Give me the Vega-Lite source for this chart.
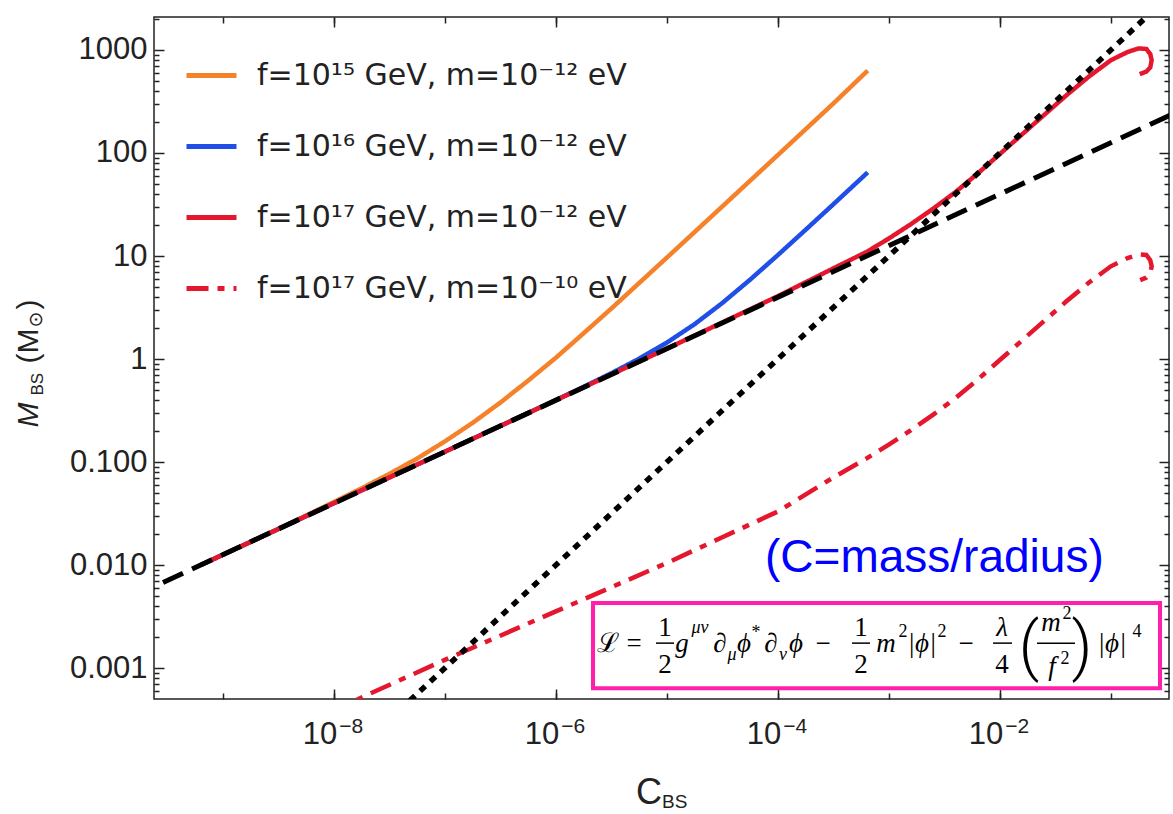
{
  "$schema": "https://vega.github.io/schema/vega-lite/v6.json",
  "width": 1015,
  "height": 682,
  "autosize": {"type": "none"},
  "padding": {"left": 154, "top": 17, "right": 4, "bottom": 115},
  "background": "white",
  "config": {"view": {"stroke": "#222", "strokeWidth": 1.5}, "font": "Liberation Sans"},
  "resolve": {"axis": {"x": "independent", "y": "independent"}},
  "datasets": {
    "curves": [
      {"series": "f=10¹⁵ GeV, m=10⁻¹² eV", "i": 0, "C": 6.310e-10, "M": 0.01},
      {"series": "f=10¹⁵ GeV, m=10⁻¹² eV", "i": 1, "C": 3.162e-9, "M": 0.02239},
      {"series": "f=10¹⁵ GeV, m=10⁻¹² eV", "i": 2, "C": 1e-8, "M": 0.04093},
      {"series": "f=10¹⁵ GeV, m=10⁻¹² eV", "i": 3, "C": 1.778e-8, "M": 0.05559},
      {"series": "f=10¹⁵ GeV, m=10⁻¹² eV", "i": 4, "C": 3.162e-8, "M": 0.07674},
      {"series": "f=10¹⁵ GeV, m=10⁻¹² eV", "i": 5, "C": 5.623e-8, "M": 0.1081},
      {"series": "f=10¹⁵ GeV, m=10⁻¹² eV", "i": 6, "C": 1e-7, "M": 0.1585},
      {"series": "f=10¹⁵ GeV, m=10⁻¹² eV", "i": 7, "C": 1.778e-7, "M": 0.2399},
      {"series": "f=10¹⁵ GeV, m=10⁻¹² eV", "i": 8, "C": 3.162e-7, "M": 0.3776},
      {"series": "f=10¹⁵ GeV, m=10⁻¹² eV", "i": 9, "C": 5.623e-7, "M": 0.6166},
      {"series": "f=10¹⁵ GeV, m=10⁻¹² eV", "i": 10, "C": 1e-6, "M": 1.028},
      {"series": "f=10¹⁵ GeV, m=10⁻¹² eV", "i": 11, "C": 1.778e-6, "M": 1.778},
      {"series": "f=10¹⁵ GeV, m=10⁻¹² eV", "i": 12, "C": 3.162e-6, "M": 3.090},
      {"series": "f=10¹⁵ GeV, m=10⁻¹² eV", "i": 13, "C": 1e-5, "M": 9.638},
      {"series": "f=10¹⁵ GeV, m=10⁻¹² eV", "i": 14, "C": 3.162e-5, "M": 30.27},
      {"series": "f=10¹⁵ GeV, m=10⁻¹² eV", "i": 15, "C": 1e-4, "M": 95.50},
      {"series": "f=10¹⁵ GeV, m=10⁻¹² eV", "i": 16, "C": 3.162e-4, "M": 302.0},
      {"series": "f=10¹⁵ GeV, m=10⁻¹² eV", "i": 17, "C": 6.457e-4, "M": 631.0},

      {"series": "f=10¹⁶ GeV, m=10⁻¹² eV", "i": 0, "C": 6.310e-10, "M": 0.01},
      {"series": "f=10¹⁶ GeV, m=10⁻¹² eV", "i": 1, "C": 3.162e-9, "M": 0.02239},
      {"series": "f=10¹⁶ GeV, m=10⁻¹² eV", "i": 2, "C": 1e-8, "M": 0.03981},
      {"series": "f=10¹⁶ GeV, m=10⁻¹² eV", "i": 3, "C": 1e-7, "M": 0.1259},
      {"series": "f=10¹⁶ GeV, m=10⁻¹² eV", "i": 4, "C": 1e-6, "M": 0.3999},
      {"series": "f=10¹⁶ GeV, m=10⁻¹² eV", "i": 5, "C": 1.778e-6, "M": 0.5370},
      {"series": "f=10¹⁶ GeV, m=10⁻¹² eV", "i": 6, "C": 3.162e-6, "M": 0.7278},
      {"series": "f=10¹⁶ GeV, m=10⁻¹² eV", "i": 7, "C": 5.623e-6, "M": 1.007},
      {"series": "f=10¹⁶ GeV, m=10⁻¹² eV", "i": 8, "C": 1e-5, "M": 1.442},
      {"series": "f=10¹⁶ GeV, m=10⁻¹² eV", "i": 9, "C": 1.778e-5, "M": 2.178},
      {"series": "f=10¹⁶ GeV, m=10⁻¹² eV", "i": 10, "C": 3.162e-5, "M": 3.499},
      {"series": "f=10¹⁶ GeV, m=10⁻¹² eV", "i": 11, "C": 5.623e-5, "M": 5.888},
      {"series": "f=10¹⁶ GeV, m=10⁻¹² eV", "i": 12, "C": 1e-4, "M": 10.21},
      {"series": "f=10¹⁶ GeV, m=10⁻¹² eV", "i": 13, "C": 1.778e-4, "M": 17.95},
      {"series": "f=10¹⁶ GeV, m=10⁻¹² eV", "i": 14, "C": 3.162e-4, "M": 31.77},
      {"series": "f=10¹⁶ GeV, m=10⁻¹² eV", "i": 15, "C": 6.457e-4, "M": 64.86},

      {"series": "f=10¹⁷ GeV, m=10⁻¹² eV", "i": 0, "C": 6.310e-10, "M": 0.01},
      {"series": "f=10¹⁷ GeV, m=10⁻¹² eV", "i": 1, "C": 1e-8, "M": 0.03981},
      {"series": "f=10¹⁷ GeV, m=10⁻¹² eV", "i": 2, "C": 1e-7, "M": 0.1259},
      {"series": "f=10¹⁷ GeV, m=10⁻¹² eV", "i": 3, "C": 1e-6, "M": 0.3981},
      {"series": "f=10¹⁷ GeV, m=10⁻¹² eV", "i": 4, "C": 1e-5, "M": 1.259},
      {"series": "f=10¹⁷ GeV, m=10⁻¹² eV", "i": 5, "C": 3.162e-5, "M": 2.265},
      {"series": "f=10¹⁷ GeV, m=10⁻¹² eV", "i": 6, "C": 1e-4, "M": 4.074},
      {"series": "f=10¹⁷ GeV, m=10⁻¹² eV", "i": 7, "C": 3.162e-4, "M": 7.586},
      {"series": "f=10¹⁷ GeV, m=10⁻¹² eV", "i": 8, "C": 6.310e-4, "M": 10.96},
      {"series": "f=10¹⁷ GeV, m=10⁻¹² eV", "i": 9, "C": 1e-3, "M": 14.79},
      {"series": "f=10¹⁷ GeV, m=10⁻¹² eV", "i": 10, "C": 1.585e-3, "M": 20.42},
      {"series": "f=10¹⁷ GeV, m=10⁻¹² eV", "i": 11, "C": 2.512e-3, "M": 28.84},
      {"series": "f=10¹⁷ GeV, m=10⁻¹² eV", "i": 12, "C": 3.981e-3, "M": 41.69},
      {"series": "f=10¹⁷ GeV, m=10⁻¹² eV", "i": 13, "C": 6.310e-3, "M": 63.10},
      {"series": "f=10¹⁷ GeV, m=10⁻¹² eV", "i": 14, "C": 1e-2, "M": 97.72},
      {"series": "f=10¹⁷ GeV, m=10⁻¹² eV", "i": 15, "C": 1.585e-2, "M": 151.4},
      {"series": "f=10¹⁷ GeV, m=10⁻¹² eV", "i": 16, "C": 2.512e-2, "M": 234.4},
      {"series": "f=10¹⁷ GeV, m=10⁻¹² eV", "i": 17, "C": 3.981e-2, "M": 363.1},
      {"series": "f=10¹⁷ GeV, m=10⁻¹² eV", "i": 18, "C": 6.310e-2, "M": 549.5},
      {"series": "f=10¹⁷ GeV, m=10⁻¹² eV", "i": 19, "C": 0.1, "M": 794.3},
      {"series": "f=10¹⁷ GeV, m=10⁻¹² eV", "i": 20, "C": 0.1413, "M": 955.0},
      {"series": "f=10¹⁷ GeV, m=10⁻¹² eV", "i": 21, "C": 0.1778, "M": 1035},
      {"series": "f=10¹⁷ GeV, m=10⁻¹² eV", "i": 22, "C": 0.2089, "M": 1023},
      {"series": "f=10¹⁷ GeV, m=10⁻¹² eV", "i": 23, "C": 0.2265, "M": 912.0},
      {"series": "f=10¹⁷ GeV, m=10⁻¹² eV", "i": 24, "C": 0.2333, "M": 794.3},
      {"series": "f=10¹⁷ GeV, m=10⁻¹² eV", "i": 25, "C": 0.2265, "M": 676.1},
      {"series": "f=10¹⁷ GeV, m=10⁻¹² eV", "i": 26, "C": 0.2089, "M": 616.6},
      {"series": "f=10¹⁷ GeV, m=10⁻¹² eV", "i": 27, "C": 0.1820, "M": 582.1},

      {"series": "f=10¹⁷ GeV, m=10⁻¹⁰ eV", "i": 0, "C": 6.310e-10, "M": 9.55e-5},
      {"series": "f=10¹⁷ GeV, m=10⁻¹⁰ eV", "i": 1, "C": 1e-8, "M": 3.890e-4},
      {"series": "f=10¹⁷ GeV, m=10⁻¹⁰ eV", "i": 2, "C": 1.820e-8, "M": 5.248e-4},
      {"series": "f=10¹⁷ GeV, m=10⁻¹⁰ eV", "i": 3, "C": 1e-7, "M": 1.202e-3},
      {"series": "f=10¹⁷ GeV, m=10⁻¹⁰ eV", "i": 4, "C": 1e-6, "M": 3.548e-3},
      {"series": "f=10¹⁷ GeV, m=10⁻¹⁰ eV", "i": 5, "C": 1e-5, "M": 0.01047},
      {"series": "f=10¹⁷ GeV, m=10⁻¹⁰ eV", "i": 6, "C": 3.162e-5, "M": 0.01862},
      {"series": "f=10¹⁷ GeV, m=10⁻¹⁰ eV", "i": 7, "C": 1e-4, "M": 0.03311},
      {"series": "f=10¹⁷ GeV, m=10⁻¹⁰ eV", "i": 8, "C": 3.162e-4, "M": 0.07079},
      {"series": "f=10¹⁷ GeV, m=10⁻¹⁰ eV", "i": 9, "C": 6.310e-4, "M": 0.1084},
      {"series": "f=10¹⁷ GeV, m=10⁻¹⁰ eV", "i": 10, "C": 1e-3, "M": 0.1479},
      {"series": "f=10¹⁷ GeV, m=10⁻¹⁰ eV", "i": 11, "C": 1.585e-3, "M": 0.2042},
      {"series": "f=10¹⁷ GeV, m=10⁻¹⁰ eV", "i": 12, "C": 2.512e-3, "M": 0.2884},
      {"series": "f=10¹⁷ GeV, m=10⁻¹⁰ eV", "i": 13, "C": 3.981e-3, "M": 0.4169},
      {"series": "f=10¹⁷ GeV, m=10⁻¹⁰ eV", "i": 14, "C": 6.310e-3, "M": 0.6310},
      {"series": "f=10¹⁷ GeV, m=10⁻¹⁰ eV", "i": 15, "C": 1e-2, "M": 0.9772},
      {"series": "f=10¹⁷ GeV, m=10⁻¹⁰ eV", "i": 16, "C": 1.585e-2, "M": 1.514},
      {"series": "f=10¹⁷ GeV, m=10⁻¹⁰ eV", "i": 17, "C": 2.512e-2, "M": 2.344},
      {"series": "f=10¹⁷ GeV, m=10⁻¹⁰ eV", "i": 18, "C": 3.981e-2, "M": 3.631},
      {"series": "f=10¹⁷ GeV, m=10⁻¹⁰ eV", "i": 19, "C": 6.310e-2, "M": 5.495},
      {"series": "f=10¹⁷ GeV, m=10⁻¹⁰ eV", "i": 20, "C": 0.1, "M": 7.943},
      {"series": "f=10¹⁷ GeV, m=10⁻¹⁰ eV", "i": 21, "C": 0.1413, "M": 9.550},
      {"series": "f=10¹⁷ GeV, m=10⁻¹⁰ eV", "i": 22, "C": 0.1778, "M": 10.35},
      {"series": "f=10¹⁷ GeV, m=10⁻¹⁰ eV", "i": 23, "C": 0.2089, "M": 10.23},
      {"series": "f=10¹⁷ GeV, m=10⁻¹⁰ eV", "i": 24, "C": 0.2265, "M": 9.120},
      {"series": "f=10¹⁷ GeV, m=10⁻¹⁰ eV", "i": 25, "C": 0.2333, "M": 7.943},
      {"series": "f=10¹⁷ GeV, m=10⁻¹⁰ eV", "i": 26, "C": 0.2265, "M": 6.761},
      {"series": "f=10¹⁷ GeV, m=10⁻¹⁰ eV", "i": 27, "C": 0.2089, "M": 6.166},
      {"series": "f=10¹⁷ GeV, m=10⁻¹⁰ eV", "i": 28, "C": 0.1820, "M": 5.821}
    ],
    "dashed": [{"C": 1.585e-10, "M": 0.005012}, {"C": 0.5012, "M": 281.8}],
    "dotted": [{"C": 3.162e-8, "M": 3.162e-4}, {"C": 0.5012, "M": 5012}],
    "box": [{"C": 2.163e-6, "C2": 0.2774, "M": 4.273e-3, "M2": 6.389e-4}],
    "note": [{"t": "(C=mass/radius)", "C": 7.665e-5, "M": 8.545e-3}],
    "upright": [
      {"t": "ℒ", "C": 2.952e-6, "M": 1.429e-3},
      {"t": "=", "C": 5.062e-6, "M": 1.429e-3},
      {"t": "−", "C": 2.553e-4, "M": 1.429e-3},
      {"t": "−", "C": 4.958e-3, "M": 1.429e-3},
      {"t": "1", "C": 9.630e-6, "M": 2.043e-3},
      {"t": "2", "C": 9.630e-6, "M": 8.935e-4},
      {"t": "1", "C": 5.616e-4, "M": 2.043e-3},
      {"t": "2", "C": 5.616e-4, "M": 8.935e-4},
      {"t": "4", "C": 1.046e-2, "M": 8.935e-4}
    ],
    "italic": [
      {"t": "g", "C": 1.370e-5, "M": 1.429e-3},
      {"t": "∂", "C": 3.014e-5, "M": 1.429e-3},
      {"t": "ϕ", "C": 4.958e-5, "M": 1.429e-3},
      {"t": "∂", "C": 8.682e-5, "M": 1.429e-3},
      {"t": "ϕ", "C": 1.458e-4, "M": 1.429e-3},
      {"t": "m", "C": 9.432e-4, "M": 1.429e-3},
      {"t": "|ϕ|", "C": 1.990e-3, "M": 1.429e-3},
      {"t": "λ", "C": 1.046e-2, "M": 2.043e-3},
      {"t": "m", "C": 2.891e-2, "M": 2.285e-3},
      {"t": "f", "C": 2.952e-2, "M": 8.545e-4},
      {"t": "|ϕ|", "C": 0.1025, "M": 1.429e-3}
    ],
    "scriptItalic": [
      {"t": "μν", "C": 1.990e-5, "M": 2.185e-3},
      {"t": "μ", "C": 3.866e-5, "M": 1.195e-3},
      {"t": "ν", "C": 1.1135e-4, "M": 1.195e-3}
    ],
    "scriptUpright": [
      {"t": "*", "C": 6.359e-5, "M": 1.954e-3},
      {"t": "2", "C": 1.342e-3, "M": 1.998e-3},
      {"t": "2", "C": 3.014e-3, "M": 1.998e-3},
      {"t": "2", "C": 4.029e-2, "M": 2.987e-3},
      {"t": "2", "C": 3.866e-2, "M": 1.092e-3},
      {"t": "4", "C": 0.1722, "M": 1.998e-3}
    ],
    "parens": [
      {"t": "(", "C": 1.832e-2, "M": 1.0e-3},
      {"t": ")", "C": 5.500e-2, "M": 1.0e-3}
    ],
    "bars": [
      {"C": 7.989e-6, "C2": 1.161e-5, "M": 1.747e-3},
      {"C": 4.659e-4, "C2": 6.769e-4, "M": 1.747e-3},
      {"C": 8.682e-3, "C2": 1.287e-2, "M": 1.747e-3},
      {"C": 2.163e-2, "C2": 4.756e-2, "M": 1.747e-3}
    ]
  },
  "layer": [
    {
      "data": {"name": "curves"},
      "mark": {"type": "line", "clip": true, "strokeWidth": 4.5},
      "encoding": {
        "x": {"field": "C", "type": "quantitative",
          "scale": {"type": "log", "domain": [2.399e-10, 0.3342], "nice": false},
          "axis": {"orient": "bottom", "values": [1e-8, 1e-6, 1e-4, 1e-2], "domain": false, "grid": false,
            "tickSize": -10, "tickWidth": 1.5, "tickColor": "#222",
            "labelExpr": "'10'", "labelFont": "Liberation Sans", "labelFontSize": 31, "labelColor": "#222",
            "labelAlign": "right", "labelBaseline": "alphabetic", "labelPadding": 54, "labelOffset": 3,
            "labelFlush": false, "labelOverlap": false,
            "title": "C", "titleFont": "Liberation Sans", "titleFontSize": 36, "titleFontWeight": "normal", "titleColor": "#222",
            "titleAlign": "right", "titleBaseline": "alphabetic", "titleY": 104}},
        "y": {"field": "M", "type": "quantitative",
          "scale": {"type": "log", "domain": [5.012e-4, 2089], "nice": false},
          "axis": {"orient": "left", "values": [0.001, 0.01, 0.1, 1, 10, 100, 1000], "domain": false, "grid": false,
            "tickSize": -10, "tickWidth": 1.5, "tickColor": "#222",
            "labelExpr": "datum.value >= 1 ? format(datum.value, 'd') : format(datum.value, '.3f')",
            "labelFont": "Liberation Sans", "labelFontSize": 31, "labelColor": "#222",
            "labelAlign": "right", "labelBaseline": "middle", "labelPadding": 17,
            "labelFlush": false, "labelOverlap": false,
            "title": "M", "titleFont": "Liberation Sans", "titleFontSize": 30, "titleFontStyle": "italic", "titleFontWeight": "normal", "titleColor": "#222",
            "titleAngle": -90, "titleAlign": "left", "titleBaseline": "alphabetic", "titleX": -117, "titleY": 410}},
        "color": {"field": "series", "type": "nominal",
          "scale": {"domain": ["f=10¹⁵ GeV, m=10⁻¹² eV", "f=10¹⁶ GeV, m=10⁻¹² eV", "f=10¹⁷ GeV, m=10⁻¹² eV", "f=10¹⁷ GeV, m=10⁻¹⁰ eV"],
            "range": ["#F5822A", "#1F4FE6", "#E4172E", "#E4172E"]},
          "legend": {"orient": "none", "legendX": 30, "legendY": 31, "title": null, "labelFont": "DejaVu Sans", "labelFontSize": 30, "labelColor": "#222",
            "symbolType": "stroke", "symbolSize": 2500, "symbolStrokeWidth": 5, "rowPadding": 28, "labelOffset": 18, "labelLimit": 0, "padding": 0}},
        "strokeDash": {"field": "series", "type": "nominal",
          "scale": {"domain": ["f=10¹⁵ GeV, m=10⁻¹² eV", "f=10¹⁶ GeV, m=10⁻¹² eV", "f=10¹⁷ GeV, m=10⁻¹² eV", "f=10¹⁷ GeV, m=10⁻¹⁰ eV"],
            "range": [[1, 0], [1, 0], [1, 0], [22, 9, 7, 9]]},
          "legend": {"orient": "none", "legendX": 30, "legendY": 31, "title": null, "labelFont": "DejaVu Sans", "labelFontSize": 30, "labelColor": "#222",
            "symbolType": "stroke", "symbolSize": 2500, "symbolStrokeWidth": 5, "rowPadding": 28, "labelOffset": 18, "labelLimit": 0, "padding": 0}},
        "order": {"field": "i", "type": "quantitative"}
      }
    },
    {
      "data": {"name": "dashed"},
      "mark": {"type": "line", "clip": true, "color": "#000", "strokeWidth": 5, "strokeDash": [22, 10]},
      "encoding": {
        "x": {"field": "C", "type": "quantitative",
          "scale": {"type": "log", "domain": [2.399e-10, 0.3342], "nice": false},
          "axis": {"orient": "bottom", "values": [1e-9, 1e-8, 1e-7, 1e-6, 1e-5, 1e-4, 1e-3, 1e-2, 1e-1], "domain": false, "grid": false,
            "tickSize": -6, "tickWidth": 1.5, "tickColor": "#222",
            "labelExpr": "round(log(datum.value)/LN10) % 2 == 0 ? '−' + abs(round(log(datum.value)/LN10)) : ''",
            "labelFont": "Liberation Sans", "labelFontSize": 21, "labelColor": "#222",
            "labelAlign": "left", "labelBaseline": "alphabetic", "labelPadding": 39, "labelOffset": 5,
            "labelFlush": false, "labelOverlap": false,
            "title": "BS", "titleFont": "Liberation Sans", "titleFontSize": 19, "titleFontWeight": "normal", "titleColor": "#222",
            "titleAlign": "left", "titleBaseline": "alphabetic", "titleY": 108}},
        "y": {"field": "M", "type": "quantitative",
          "scale": {"type": "log", "domain": [5.012e-4, 2089], "nice": false},
          "axis": {"orient": "left", "values": [0.0006,0.0007,0.0008,0.0009,0.002,0.003,0.004,0.005,0.006,0.007,0.008,0.009,0.02,0.03,0.04,0.05,0.06,0.07,0.08,0.09,0.2,0.3,0.4,0.5,0.6,0.7,0.8,0.9,2,3,4,5,6,7,8,9,20,30,40,50,60,70,80,90,200,300,400,500,600,700,800,900,2000],
            "domain": false, "grid": false, "tickSize": -5, "tickWidth": 1.5, "tickColor": "#222", "labels": false,
            "title": "BS", "titleFont": "Liberation Sans", "titleFontSize": 17, "titleFontWeight": "normal", "titleColor": "#222",
            "titleAngle": -90, "titleAlign": "left", "titleBaseline": "alphabetic", "titleX": -112, "titleY": 378}}
      }
    },
    {
      "data": {"name": "dotted"},
      "mark": {"type": "line", "clip": true, "color": "#000", "strokeWidth": 5.5, "strokeDash": [7, 7]},
      "encoding": {
        "x": {"field": "C", "type": "quantitative",
          "scale": {"type": "log", "domain": [2.399e-10, 0.3342], "nice": false},
          "axis": {"orient": "top", "values": [1e-9, 1e-8, 1e-7, 1e-6, 1e-5, 1e-4, 1e-3, 1e-2, 1e-1], "domain": false, "grid": false,
            "tickSize": -6, "tickWidth": 1.5, "tickColor": "#222", "labels": false, "title": null}},
        "y": {"field": "M", "type": "quantitative",
          "scale": {"type": "log", "domain": [5.012e-4, 2089], "nice": false},
          "axis": {"orient": "right", "values": [0.001, 0.01, 0.1, 1, 10, 100, 1000], "domain": false, "grid": false,
            "tickSize": -10, "tickWidth": 1.5, "tickColor": "#222", "labels": false, "title": null}}
      }
    },
    {
      "data": {"name": "box"},
      "mark": {"type": "rect", "fill": "white", "stroke": "#FF1FAA", "strokeWidth": 4},
      "encoding": {
        "x": {"field": "C", "type": "quantitative",
          "scale": {"type": "log", "domain": [2.399e-10, 0.3342], "nice": false},
          "axis": {"orient": "top", "values": [1e-8, 1e-6, 1e-4, 1e-2], "domain": false, "grid": false,
            "tickSize": -10, "tickWidth": 1.5, "tickColor": "#222", "labels": false, "title": null}},
        "x2": {"field": "C2"},
        "y": {"field": "M", "type": "quantitative",
          "scale": {"type": "log", "domain": [5.012e-4, 2089], "nice": false},
          "axis": {"orient": "right", "values": [0.0006,0.0007,0.0008,0.0009,0.002,0.003,0.004,0.005,0.006,0.007,0.008,0.009,0.02,0.03,0.04,0.05,0.06,0.07,0.08,0.09,0.2,0.3,0.4,0.5,0.6,0.7,0.8,0.9,2,3,4,5,6,7,8,9,20,30,40,50,60,70,80,90,200,300,400,500,600,700,800,900,2000],
            "domain": false, "grid": false, "tickSize": -5, "tickWidth": 1.5, "tickColor": "#222", "labels": false, "title": null}},
        "y2": {"field": "M2"}
      }
    },
    {
      "data": {"name": "note"},
      "mark": {"type": "text", "font": "Liberation Sans", "fontSize": 46, "align": "left", "baseline": "alphabetic", "color": "#0000FF"},
      "encoding": {
        "x": {"field": "C", "type": "quantitative", "scale": {"type": "log", "domain": [2.399e-10, 0.3342], "nice": false}, "axis": null},
        "y": {"field": "M", "type": "quantitative", "scale": {"type": "log", "domain": [5.012e-4, 2089], "nice": false},
          "axis": {"orient": "left", "domain": false, "grid": false, "ticks": false, "labels": false,
            "title": "(M", "titleFont": "Liberation Sans", "titleFontSize": 30, "titleFontWeight": "normal", "titleColor": "#222",
            "titleAngle": -90, "titleAlign": "left", "titleBaseline": "alphabetic", "titleX": -117, "titleY": 346}},
        "text": {"field": "t"}
      }
    },
    {
      "data": {"name": "upright"},
      "mark": {"type": "text", "font": "Liberation Serif", "fontSize": 27, "align": "center", "baseline": "alphabetic", "color": "#000"},
      "encoding": {
        "x": {"field": "C", "type": "quantitative", "scale": {"type": "log", "domain": [2.399e-10, 0.3342], "nice": false}, "axis": null},
        "y": {"field": "M", "type": "quantitative", "scale": {"type": "log", "domain": [5.012e-4, 2089], "nice": false},
          "axis": {"orient": "left", "domain": false, "grid": false, "ticks": false, "labels": false,
            "title": "⊙", "titleFont": "DejaVu Sans", "titleFontSize": 19, "titleFontWeight": "normal", "titleColor": "#222",
            "titleAngle": -90, "titleAlign": "left", "titleBaseline": "alphabetic", "titleX": -113, "titleY": 310}},
        "text": {"field": "t"}
      }
    },
    {
      "data": {"name": "italic"},
      "mark": {"type": "text", "font": "Liberation Serif", "fontSize": 27, "fontStyle": "italic", "align": "center", "baseline": "alphabetic", "color": "#000"},
      "encoding": {
        "x": {"field": "C", "type": "quantitative", "scale": {"type": "log", "domain": [2.399e-10, 0.3342], "nice": false}, "axis": null},
        "y": {"field": "M", "type": "quantitative", "scale": {"type": "log", "domain": [5.012e-4, 2089], "nice": false},
          "axis": {"orient": "left", "domain": false, "grid": false, "ticks": false, "labels": false,
            "title": ")", "titleFont": "Liberation Sans", "titleFontSize": 30, "titleFontWeight": "normal", "titleColor": "#222",
            "titleAngle": -90, "titleAlign": "left", "titleBaseline": "alphabetic", "titleX": -117, "titleY": 292}},
        "text": {"field": "t"}
      }
    },
    {
      "data": {"name": "scriptItalic"},
      "mark": {"type": "text", "font": "Liberation Serif", "fontSize": 18, "fontStyle": "italic", "align": "center", "baseline": "alphabetic", "color": "#000"},
      "encoding": {
        "x": {"field": "C", "type": "quantitative", "scale": {"type": "log", "domain": [2.399e-10, 0.3342], "nice": false}, "axis": null},
        "y": {"field": "M", "type": "quantitative", "scale": {"type": "log", "domain": [5.012e-4, 2089], "nice": false}, "axis": null},
        "text": {"field": "t"}
      }
    },
    {
      "data": {"name": "scriptUpright"},
      "mark": {"type": "text", "font": "Liberation Serif", "fontSize": 18, "align": "center", "baseline": "alphabetic", "color": "#000"},
      "encoding": {
        "x": {"field": "C", "type": "quantitative", "scale": {"type": "log", "domain": [2.399e-10, 0.3342], "nice": false}, "axis": null},
        "y": {"field": "M", "type": "quantitative", "scale": {"type": "log", "domain": [5.012e-4, 2089], "nice": false}, "axis": null},
        "text": {"field": "t"}
      }
    },
    {
      "data": {"name": "parens"},
      "mark": {"type": "text", "font": "Roboto", "fontWeight": 300, "fontSize": 64, "align": "center", "baseline": "alphabetic", "color": "#000"},
      "encoding": {
        "x": {"field": "C", "type": "quantitative", "scale": {"type": "log", "domain": [2.399e-10, 0.3342], "nice": false}, "axis": null},
        "y": {"field": "M", "type": "quantitative", "scale": {"type": "log", "domain": [5.012e-4, 2089], "nice": false}, "axis": null},
        "text": {"field": "t"}
      }
    },
    {
      "data": {"name": "bars"},
      "mark": {"type": "rule", "color": "#000", "strokeWidth": 1.5},
      "encoding": {
        "x": {"field": "C", "type": "quantitative", "scale": {"type": "log", "domain": [2.399e-10, 0.3342], "nice": false}, "axis": null},
        "x2": {"field": "C2"},
        "y": {"field": "M", "type": "quantitative", "scale": {"type": "log", "domain": [5.012e-4, 2089], "nice": false}, "axis": null}
      }
    }
  ]
}
